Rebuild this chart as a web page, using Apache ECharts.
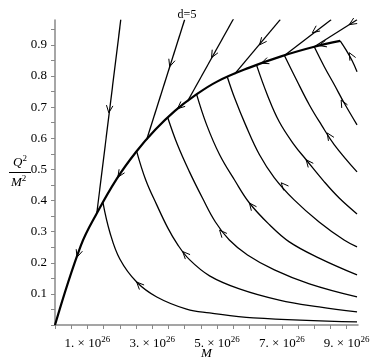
<!DOCTYPE html>
<html>
<head>
<meta charset="UTF-8">
<title>d=5</title>
<script src="https://cdn.jsdelivr.net/npm/echarts@6/dist/echarts.min.js"></script>
<style>
  html, body { margin: 0; padding: 0; background: #fff; }
  #main { width: 374px; height: 364px; }
</style>
</head>
<body>
<div id="main"></div>
<script>
// M in units of 1e26, y = Q^2/M^2
var envelope = [[0, 0], [0.8, 0.256], [1.3, 0.361], [1.9, 0.469], [2.5, 0.556], [3.1, 0.628],
    [3.7, 0.688], [4.3, 0.736], [5.0, 0.782], [6.0, 0.827], [7.0, 0.864], [8.0, 0.894], [8.8, 0.913]];

// lines coming in from the right edge, rising up to the envelope
var fromRight1 = [[1.48, 0.393], [1.69, 0.299], [2.0, 0.212], [2.52, 0.138], [3.14, 0.09], [4.06, 0.051], [4.77, 0.039], [6.12, 0.023], [9.32, 0.01]];
var fromRight2 = [[2.52, 0.558], [2.8, 0.466], [3.14, 0.386], [3.48, 0.312], [3.78, 0.259], [4.15, 0.21], [4.77, 0.158], [5.69, 0.116], [6.92, 0.08], [8.15, 0.058], [9.32, 0.042]];
var fromRight3 = [[3.48, 0.666], [3.78, 0.579], [4.15, 0.492], [4.55, 0.408], [4.95, 0.331], [5.38, 0.273], [5.94, 0.225], [6.77, 0.177], [7.85, 0.132], [9.32, 0.09]];
var fromRight4 = [[4.37, 0.741], [4.68, 0.643], [5.08, 0.547], [5.54, 0.466], [6.0, 0.392], [6.62, 0.322], [7.23, 0.267], [8.15, 0.215], [9.32, 0.161]];
var fromRight5 = [[5.32, 0.796], [5.54, 0.73], [5.88, 0.643], [6.31, 0.547], [6.77, 0.473], [7.38, 0.402], [8.15, 0.331], [8.92, 0.273], [9.32, 0.251]];
var fromRight6 = [[6.22, 0.835], [6.55, 0.74], [6.92, 0.653], [7.38, 0.579], [7.75, 0.531], [8.31, 0.46], [8.77, 0.408], [9.32, 0.357]];
var fromRight7 = [[7.08, 0.866], [7.45, 0.788], [7.85, 0.707], [8.22, 0.643], [8.62, 0.579], [9.32, 0.492]];
var fromRight8 = [[8.0, 0.894], [8.31, 0.83], [8.62, 0.772], [8.92, 0.714], [9.32, 0.643]];
var fromRight9 = [[8.8, 0.913], [8.98, 0.884], [9.17, 0.849], [9.32, 0.814]];

// lines falling from the top edge down onto the envelope
var fromTop1 = [[2.03, 0.981], [1.29, 0.359]];
var fromTop2 = [[4.0, 0.981], [2.83, 0.596]];
var fromTop3 = [[5.51, 0.984], [4.09, 0.719]];
var fromTop4 = [[6.95, 0.981], [5.54, 0.806]];
var fromTop5 = [[8.52, 0.981], [7.08, 0.866]];
var fromTop6 = [[9.32, 0.981], [8.0, 0.894]];

// arrow heads: [M, y, dirM, dirY]
var arrows = [
    [0.68, 0.218, -1, -0.32], [1.94, 0.475, -1, -0.16], [3.78, 0.695, -1, -0.09],
    [6.37, 0.841, -1, -0.04], [8.15, 0.898, -1, -0.027],
    [2.52, 0.138, -1, 0.107], [3.94, 0.236, -1, 0.11], [5.08, 0.305, -1, 0.12],
    [6.0, 0.392, -1, 0.133], [6.98, 0.457, -1, 0.116], [7.75, 0.531, -1, 0.128],
    [8.4, 0.617, -1, 0.16], [8.83, 0.723, -1, 0.193], [9.08, 0.875, -1, 0.19],
    [1.66, 0.682, -0.74, -0.621], [3.54, 0.83, -1.17, -0.386], [4.83, 0.859, -1.42, -0.267],
    [6.31, 0.9, -1.41, -0.177], [7.94, 0.939, -1.44, -0.113], [9.08, 0.965, -1.32, -0.087]
];

var xLabelValues = [1, 3, 5, 7, 9];
var yLabelValues = [0.1, 0.2, 0.3, 0.4, 0.5, 0.6, 0.7, 0.8, 0.9];

var serif = 'Liberation Serif';
var myChart = echarts.init(document.getElementById('main'));

function flow(data) {
    return {
        type: 'line', data: data, showSymbol: false, silent: true,
        smooth: 0.4,
        lineStyle: {color: '#000', width: 1.3}
    };
}

var series = [];
[fromRight1, fromRight2, fromRight3, fromRight4, fromRight5, fromRight6, fromRight7, fromRight8, fromRight9,
    fromTop1, fromTop2, fromTop3, fromTop4, fromTop5, fromTop6].forEach(function (d) {
    series.push(flow(d));
});
series.push({
    type: 'line', data: envelope, showSymbol: false, silent: true,
    smooth: 0.4,
    lineStyle: {color: '#000', width: 2.2}, z: 3
});
series.push({
    type: 'custom', data: arrows, silent: true, z: 4,
    renderItem: function (params, api) {
        var x = api.value(0), y = api.value(1);
        var p = api.coord([x, y]);
        var q = api.coord([x + api.value(2) * 0.05, y + api.value(3) * 0.05]);
        var a = Math.atan2(q[1] - p[1], q[0] - p[0]);
        var L = 8, w = 0.42;
        return {
            type: 'polyline',
            shape: {points: [
                [p[0] - L * Math.cos(a - w), p[1] - L * Math.sin(a - w)],
                [p[0], p[1]],
                [p[0] - L * Math.cos(a + w), p[1] - L * Math.sin(a + w)]
            ]},
            style: {stroke: '#000', fill: null, lineWidth: 1}
        };
    }
});

var option = {
    backgroundColor: '#fff',
    animation: false,
    title: {
        text: 'd=5', left: 'center', top: 4,
        textStyle: {fontFamily: serif, fontSize: 12, fontWeight: 'normal', color: '#000'}
    },
    grid: {left: 55, right: 16, top: 20, bottom: 39, containLabel: false, outerBoundsMode: 'none'},
    xAxis: {
        type: 'value', min: 0, max: 9.35, interval: 0.5,
        name: 'M', nameLocation: 'middle', nameGap: 22, nameMoveOverlap: false,
        nameTextStyle: {fontFamily: serif, fontStyle: 'italic', fontSize: 13, color: '#000', verticalAlign: 'top'},
        axisLine: {lineStyle: {color: '#888', width: 1.5}},
        axisTick: {length: 4, lineStyle: {color: '#888'}},
        splitLine: {show: false},
        axisLabel: {
            showMaxLabel: false, margin: 10,
            formatter: function (v) {
                for (var i = 0; i < xLabelValues.length; i++) {
                    if (Math.abs(v - xLabelValues[i]) < 1e-6) {
                        return '{n|' + xLabelValues[i] + '. \u00d7 10}{s|26}';
                    }
                }
                return '';
            },
            rich: {
                n: {fontFamily: serif, fontSize: 13, color: '#000'},
                s: {fontFamily: serif, fontSize: 9, color: '#000', padding: [0, 0, 9, 0]}
            }
        }
    },
    yAxis: {
        type: 'value', min: 0, max: 0.98, interval: 0.05,
        axisLine: {show: true, lineStyle: {color: '#888', width: 1.5}},
        axisTick: {show: true, length: 4, lineStyle: {color: '#888'}},
        splitLine: {show: false},
        axisLabel: {
            showMaxLabel: false, margin: 8,
            fontFamily: serif, fontSize: 13, color: '#000',
            formatter: function (v) {
                for (var i = 0; i < yLabelValues.length; i++) {
                    if (Math.abs(v - yLabelValues[i]) < 1e-6) return yLabelValues[i].toFixed(1);
                }
                return '';
            }
        }
    },
    graphic: [
        {
            type: 'text', left: 13, top: 154,
            style: {
                text: '{i|Q}{s|2}',
                rich: {
                    i: {fontFamily: serif, fontStyle: 'italic', fontSize: 13, fill: '#000'},
                    s: {fontFamily: serif, fontSize: 9, fill: '#000', padding: [0, 0, 8, 0]}
                }
            }
        },
        {type: 'line', shape: {x1: 9, y1: 172.5, x2: 31, y2: 172.5}, style: {stroke: '#000', lineWidth: 1}},
        {
            type: 'text', left: 11, top: 174,
            style: {
                text: '{i|M}{s|2}',
                rich: {
                    i: {fontFamily: serif, fontStyle: 'italic', fontSize: 13, fill: '#000'},
                    s: {fontFamily: serif, fontSize: 9, fill: '#000', padding: [0, 0, 8, 0]}
                }
            }
        }
    ],
    series: series
};

myChart.setOption(option);
</script>
</body>
</html>
